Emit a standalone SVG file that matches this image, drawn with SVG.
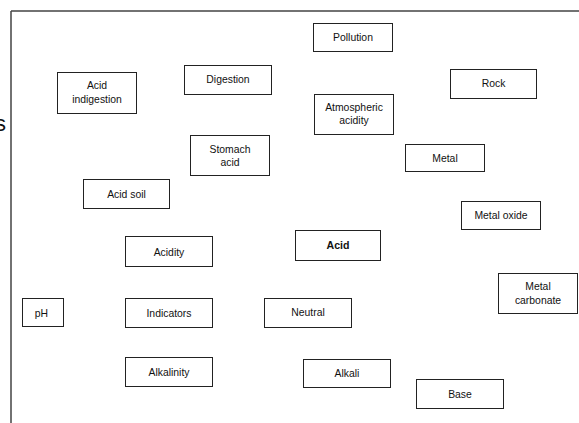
<svg xmlns="http://www.w3.org/2000/svg" width="579" height="423" viewBox="0 0 579 423">
<style>
.box rect{fill:#fff;stroke:#222;stroke-width:1}
.box text{font-family:"Liberation Sans",Arial,sans-serif;font-size:10.4px;fill:#111;text-anchor:middle}
.box text.b{font-weight:bold;font-size:10.6px}
.frame{stroke:#444;stroke-width:1.5;fill:none}
</style>
<rect width="579" height="423" fill="#fff"/>
<g id="frame">
<path class="frame" d="M11,11 H579 M11,11 V423"/>
<text x="-5" y="131" font-family="Liberation Sans,Arial,sans-serif" font-size="22" fill="#111">s</text>
</g>
<g id="connectors"></g>
<g id="acid-indigestion" class="box"><rect x="57.5" y="72.5" width="79" height="41"/><text x="97" y="89">Acid</text><text x="97" y="103">indigestion</text></g>
<g id="digestion" class="box"><rect x="184.5" y="65.5" width="87" height="29"/><text x="228" y="83">Digestion</text></g>
<g id="pollution" class="box"><rect x="313.5" y="23.5" width="79" height="28"/><text x="353" y="41">Pollution</text></g>
<g id="atmospheric-acidity" class="box"><rect x="314.5" y="94.5" width="79" height="40"/><text x="354" y="110.5">Atmospheric</text><text x="354" y="124">acidity</text></g>
<g id="rock" class="box"><rect x="450.5" y="69.5" width="86" height="29"/><text x="493.5" y="87">Rock</text></g>
<g id="stomach-acid" class="box"><rect x="190.5" y="135.5" width="79" height="40"/><text x="230" y="152.5">Stomach</text><text x="230" y="166">acid</text></g>
<g id="metal" class="box"><rect x="405.5" y="144.5" width="79" height="27"/><text x="445" y="161.5">Metal</text></g>
<g id="acid-soil" class="box"><rect x="83.5" y="179.5" width="86" height="29"/><text x="126.5" y="198">Acid soil</text></g>
<g id="metal-oxide" class="box"><rect x="461.5" y="201.5" width="79" height="28"/><text x="501" y="219">Metal oxide</text></g>
<g id="acidity" class="box"><rect x="125.5" y="236.5" width="87" height="30"/><text x="169" y="256">Acidity</text></g>
<g id="acid" class="box"><rect x="295.5" y="230.5" width="85" height="30"/><text class="b" x="338" y="249">Acid</text></g>
<g id="metal-carbonate" class="box"><rect x="498.5" y="273.5" width="79" height="40"/><text x="538" y="290">Metal</text><text x="538" y="304">carbonate</text></g>
<g id="ph" class="box"><rect x="22.5" y="298.5" width="41" height="28"/><text x="41.5" y="316.5">pH</text></g>
<g id="indicators" class="box"><rect x="125.5" y="298.5" width="87" height="29"/><text x="169" y="316.5">Indicators</text></g>
<g id="neutral" class="box"><rect x="264.5" y="298.5" width="87" height="29"/><text x="308" y="316">Neutral</text></g>
<g id="alkalinity" class="box"><rect x="125.5" y="357.5" width="87" height="29"/><text x="169" y="376">Alkalinity</text></g>
<g id="alkali" class="box"><rect x="303.5" y="359.5" width="87" height="28"/><text x="347" y="377">Alkali</text></g>
<g id="base" class="box"><rect x="416.5" y="379.5" width="87" height="29"/><text x="460" y="397.5">Base</text></g>
</svg>
